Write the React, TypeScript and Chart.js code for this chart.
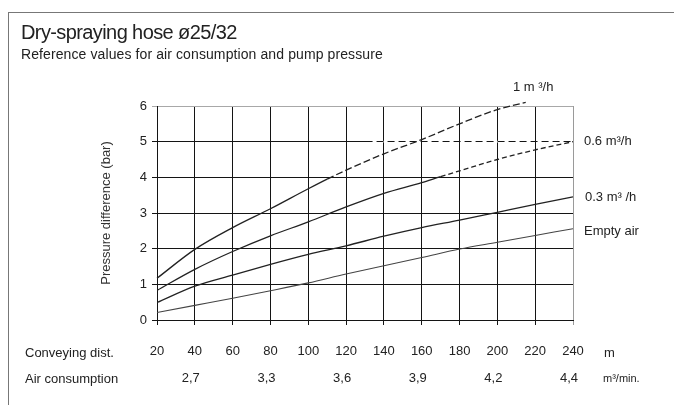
import React, { useEffect, useRef } from "react";
import { Chart, registerables } from "chart.js";

Chart.register(...registerables);

// ---------- data ----------
const distanceTicks = [20, 40, 60, 80, 100, 120, 140, 160, 180, 200, 220, 240];
const pressureTicks = [0, 1, 2, 3, 4, 5, 6];
const airTickPositions = [40, 80, 120, 160, 200, 240];
const airTickLabels = ["2,7", "3,3", "3,6", "3,9", "4,2", "4,4"];

// 1 m³/h
const dist1 = [20, 40, 60, 80, 100, 110, 120, 140, 160, 180, 200, 215];
const flow1 = [1.17, 1.98, 2.59, 3.12, 3.68, 3.95, 4.2, 4.66, 5.06, 5.5, 5.9, 6.1];
const dash1From = 110;

// 0.6 m³/h
const dist06 = [20, 40, 60, 80, 100, 120, 140, 160, 170, 180, 200, 220, 240];
const flow06 = [0.83, 1.42, 1.92, 2.36, 2.75, 3.17, 3.55, 3.85, 4.02, 4.18, 4.5, 4.77, 5.0];
const dash06From = 170;

// 0.3 m³/h
const dist03 = [20, 40, 60, 80, 100, 120, 140, 160, 180, 200, 220, 240];
const flow03 = [0.49, 0.95, 1.26, 1.56, 1.84, 2.08, 2.35, 2.59, 2.8, 3.02, 3.24, 3.45];

// Empty air
const distEmpty = [20, 40, 60, 80, 100, 120, 140, 160, 180, 200, 220, 240];
const emptyAir = [0.21, 0.41, 0.61, 0.82, 1.04, 1.29, 1.52, 1.75, 1.99, 2.18, 2.37, 2.56];

// grid line at 5 bar appears dashed from here on
const dashedGridValue = 5;
const dashedGridFrom = 134;

const FONT = "'Liberation Sans', Arial, Helvetica, sans-serif";
const INK = "#222";
const GRID = "#141414";

const toPoints = (xs: number[], ys: number[]) => xs.map((x, i) => ({ x, y: ys[i] }));

const gridDashPlugin = {
  id: "gridDash",
  beforeDatasetsDraw(chart: any) {
    const { ctx, scales } = chart;
    const y = scales.y.getPixelForValue(dashedGridValue);
    const x0 = scales.x.getPixelForValue(dashedGridFrom);
    const x1 = scales.x.getPixelForValue(240);
    ctx.save();
    ctx.strokeStyle = "#ffffff";
    ctx.lineWidth = 2;
    ctx.setLineDash([4, 7]);
    ctx.beginPath();
    ctx.moveTo(x0, y);
    ctx.lineTo(x1, y);
    ctx.stroke();
    ctx.restore();
  },
};

function LineChart() {
  const ref = useRef<HTMLCanvasElement | null>(null);
  useEffect(() => {
    if (!ref.current) return;
    const chart = new Chart(ref.current, {
      type: "line",
      data: {
        datasets: [
          {
            label: "1 m³/h",
            data: toPoints(dist1, flow1),
            borderColor: INK,
            borderWidth: 1.3,
            pointRadius: 0,
            cubicInterpolationMode: "monotone",
            clip: false,
            segment: {
              borderDash: (c: any) => (c.p0.parsed.x >= dash1From ? [7, 3] : undefined),
            },
          },
          {
            label: "0.6 m³/h",
            data: toPoints(dist06, flow06),
            borderColor: INK,
            borderWidth: 1.3,
            pointRadius: 0,
            cubicInterpolationMode: "monotone",
            segment: {
              borderDash: (c: any) => (c.p0.parsed.x >= dash06From ? [5, 3] : undefined),
            },
          },
          {
            label: "0.3 m³/h",
            data: toPoints(dist03, flow03),
            borderColor: INK,
            borderWidth: 1.3,
            pointRadius: 0,
            cubicInterpolationMode: "monotone",
          },
          {
            label: "Empty air",
            data: toPoints(distEmpty, emptyAir),
            borderColor: "#444",
            borderWidth: 1.1,
            pointRadius: 0,
            cubicInterpolationMode: "monotone",
          },
        ],
      } as any,
      options: {
        responsive: false,
        animation: false,
        devicePixelRatio: 1,
        layout: { padding: { left: 94, right: 101, top: 106, bottom: 5 } },
        plugins: { legend: { display: false }, tooltip: { enabled: false }, title: { display: false } },
        scales: {
          x: {
            type: "linear",
            position: "bottom",
            weight: 0,
            min: 20,
            max: 240,
            afterBuildTicks: (s: any) => {
              s.ticks = distanceTicks.map((v) => ({ value: v }));
            },
            afterFit: (s: any) => {
              s.height = 44;
            },
            grid: {
              color: (c: any) => (c.tick && c.tick.value === 240 ? "#9a9a9a" : GRID),
              lineWidth: 1,
              tickLength: 5,
            },
            border: { display: true, color: GRID, width: 1 },
            ticks: {
              autoSkip: false,
              maxRotation: 0,
              padding: 19,
              color: INK,
              font: { family: FONT, size: 13 },
              callback: (v: any) => String(v),
            },
          },
          x2: {
            type: "linear",
            position: "bottom",
            weight: 1,
            min: 20,
            max: 240,
            afterBuildTicks: (s: any) => {
              s.ticks = airTickPositions.map((v) => ({ value: v }));
            },
            afterFit: (s: any) => {
              s.height = 36;
            },
            grid: { display: false, drawTicks: false },
            border: { display: false },
            ticks: {
              autoSkip: false,
              maxRotation: 0,
              padding: 7,
              labelOffset: -4,
              color: INK,
              font: { family: FONT, size: 13 },
              callback: (v: any) => {
                const i = airTickPositions.indexOf(Number(v));
                return i >= 0 ? airTickLabels[i] : "";
              },
            },
          },
          y: {
            type: "linear",
            min: 0,
            max: 6,
            afterBuildTicks: (s: any) => {
              s.ticks = pressureTicks.map((v) => ({ value: v }));
            },
            afterFit: (s: any) => {
              s.width = 63;
            },
            grid: {
              color: (c: any) => (c.tick && c.tick.value === 6 ? "#a8a8a8" : GRID),
              lineWidth: 1,
              tickLength: 5,
            },
            border: { display: true, color: GRID, width: 1 },
            ticks: {
              padding: 5,
              color: INK,
              font: { family: FONT, size: 13 },
            },
            title: {
              display: true,
              text: "Pressure difference (bar)",
              color: "#333",
              font: { family: FONT, size: 13 },
              padding: { top: 5, bottom: 0 },
            },
          },
        },
      } as any,
      plugins: [gridDashPlugin],
    });
    return () => chart.destroy();
  }, []);
  return <canvas ref={ref} width={674} height={405} style={{ position: "absolute", left: 0, top: 0 }} />;
}

const txt = (extra: React.CSSProperties): React.CSSProperties => ({
  position: "absolute",
  fontFamily: FONT,
  color: INK,
  whiteSpace: "nowrap",
  margin: 0,
  ...extra,
});

export default function App() {
  return (
    <div
      style={{
        position: "fixed",
        left: 0,
        top: 0,
        width: 674,
        height: 405,
        background: "#fff",
        overflow: "hidden",
      }}
    >
      <div
        style={{
          position: "absolute",
          left: 8,
          top: 12,
          right: -2,
          bottom: -2,
          borderLeft: "1px solid #777",
          borderTop: "1px solid #777",
        }}
      />
      <LineChart />
      <div style={txt({ left: 21, top: 22, fontSize: 20, lineHeight: "20px", letterSpacing: "-0.6px" })}>
        Dry-spraying hose ø25/32
      </div>
      <div style={txt({ left: 21, top: 47, fontSize: 14, lineHeight: "14px", letterSpacing: "0.1px" })}>
        Reference values for air consumption and pump pressure
      </div>

      <div style={txt({ left: 513, top: 80, fontSize: 13, lineHeight: "13px" })}>1 m ³/h</div>
      <div style={txt({ left: 584, top: 134, fontSize: 13, lineHeight: "13px" })}>0.6 m³/h</div>
      <div style={txt({ left: 585, top: 190, fontSize: 13, lineHeight: "13px" })}>0.3 m³ /h</div>
      <div style={txt({ left: 584, top: 224, fontSize: 13, lineHeight: "13px" })}>Empty air</div>

      <div style={txt({ left: 25, top: 346, fontSize: 13, lineHeight: "13px" })}>Conveying dist.</div>
      <div style={txt({ left: 25, top: 372, fontSize: 13, lineHeight: "13px" })}>Air consumption</div>
      <div style={txt({ left: 604, top: 346, fontSize: 13, lineHeight: "13px" })}>m</div>
      <div style={txt({ left: 603, top: 373, fontSize: 11, lineHeight: "11px" })}>m³/min.</div>
    </div>
  );
}
